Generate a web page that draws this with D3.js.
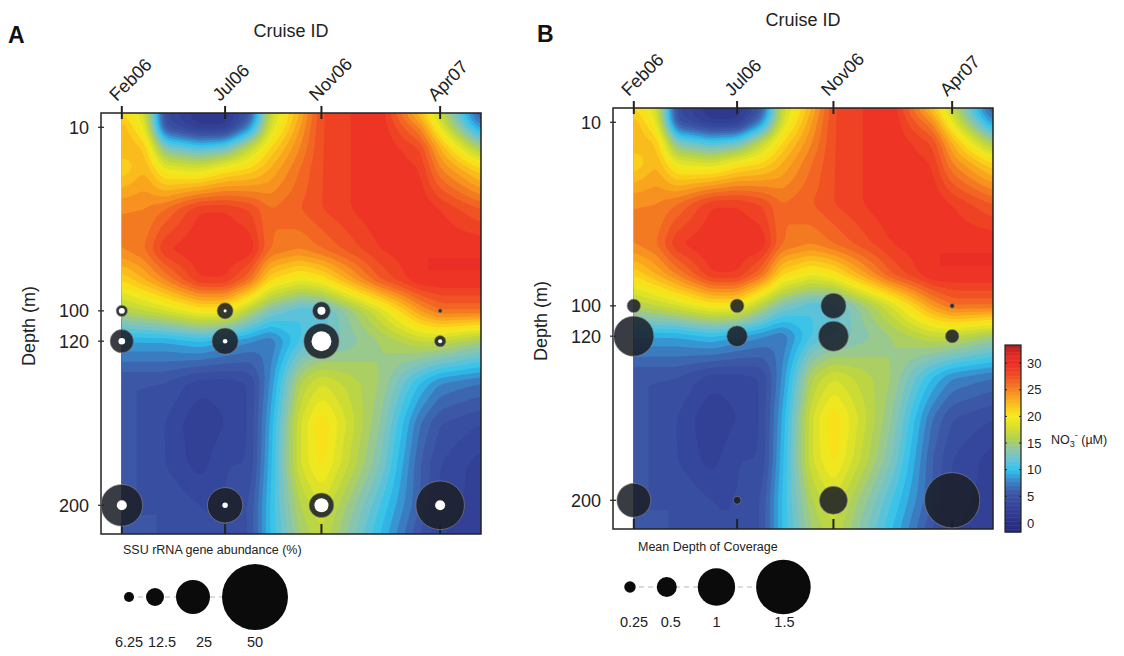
<!DOCTYPE html>
<html lang="en">
<head>
<meta charset="UTF-8">
<title>NO3 depth sections</title>
<style>
  body { margin: 0; background: #fff; }
  svg { font-family: "Liberation Sans", Arial, Helvetica, sans-serif; }
</style>
</head>
<body>
<svg id="chart" width="1124" height="656"></svg>
<script src="https://d3js.org/d3.v7.min.js"></script>
<script>
// cruises and sample depths
const cruises = ["Feb06", "Jul06", "Nov06", "Apr07"];
const cruiseDates = ["2006-02-20", "2006-07-04", "2006-11-06", "2007-04-09"];
const depthTicks = [10, 100, 120, 200];
const sampleDepths = [100, 120, 200];

// SSU rRNA gene abundance (%), rows = sampleDepths, cols = cruises
const ssuOuter = [
  [7.3, 11, 12.5, 1.6],
  [16.7, 19, 26, 7.3],
  [31, 26, 17.7, 36.4]
];
const ssuInner = [
  [3.1, 0.8, 4.7, 0],
  [3.6, 2, 14, 1.6],
  [6.25, 2.7, 9.4, 6.25]
];
// mean depth of coverage
const coverage = [
  [0.31, 0.32, 0.65, 0.05],
  [1.08, 0.52, 0.79, 0.31],
  [0.90, 0.15, 0.73, 1.52]
];
const ssuLegend = [6.25, 12.5, 25, 50];
const covLegend = [0.25, 0.5, 1, 1.5];
const no3Ticks = [0, 5, 10, 15, 20, 25, 30];

// NO3 field: columns = gridDates, rows = gridDepths
const gridDates = ["2006-02-20", "2006-03-22", "2006-04-17", "2006-06-01", "2006-07-04", "2006-08-05",
                   "2006-08-31", "2006-10-09", "2006-11-06", "2007-01-21", "2007-03-14", "2007-04-09",
                   "2007-06-01"];
const gridDepths = [3, 10, 20, 30, 50, 70, 85, 100, 120, 140, 160, 180, 200, 214];
const no3 = [
  [21, 18, 4, 1, 1, 5, 17, 23, 28, 30, 22, 17, 5],
  [23, 19, 5, 2, 2, 8, 18, 24, 28, 30, 25, 19, 8],
  [23, 22, 13, 11, 12, 17, 21, 25, 28, 30, 28, 23, 15],
  [21, 23, 19, 18, 20, 21, 23, 26, 28, 30, 29, 25, 21],
  [25, 25, 26, 29, 29, 28, 26, 27, 28, 30, 30, 29, 27],
  [25, 26, 29, 30, 30, 30, 26, 25, 26, 29, 30, 30, 30],
  [21, 23, 25, 29, 29, 26, 21, 19, 20, 27, 30, 30, 30],
  [16, 17, 18, 20, 20, 16, 13, 11, 11, 18, 24, 26, 26],
  [9, 9, 9, 10, 9, 8, 7, 11, 12, 15, 17, 17, 15],
  [5, 5, 5, 3.5, 3.5, 4, 8, 16, 18, 15, 10, 8, 7],
  [5, 5, 4, 2, 3, 4, 9, 18, 21, 14, 7, 5, 4],
  [5, 5, 4, 2.5, 4, 4, 9.5, 18, 20.5, 13, 6, 4, 2.5],
  [5, 5, 5, 4, 4, 5, 10, 16, 18, 11, 6, 3.5, 2.5],
  [5, 5, 5, 4, 4, 5, 10, 15, 17, 10, 5, 3, 2.5]
];

const parse = d3.timeParse("%Y-%m-%d");
const W = 380, H = 421;

const x = d3.scaleTime()
  .domain([parse("2006-01-24"), parse("2007-06-01")])
  .range([0, W]);
const y = d3.scaleLinear()
  .domain([3, 100, 120, 214])
  .range([0, 0.47 * H, 0.542 * H, H]);

const color = d3.scaleLinear()
  .domain([-2, 0, 3, 6, 8, 10, 12, 14, 16, 18, 20, 22, 24, 26, 28, 30, 31.5, 34])
  .range(["#262b78", "#2b3184", "#33439a", "#3c5ba8", "#3a86c8", "#2dc3ef", "#6ac3d2", "#91c6a2",
          "#b3d24c", "#d6df2c", "#f7ea1b", "#fbc51b", "#f89c1e", "#f36f22", "#ef4824", "#ed2f25",
          "#e52a25", "#9c1c20"])
  .clamp(true);

const svg = d3.select("#chart");

// resample the field on a fine regular grid (bilinear in screen space)
const colPx = gridDates.map(d => x(parse(d)));
const rowPx = gridDepths.map(d => y(d));
const x0 = colPx[0];
const nx = 180, ny = 210;
const sx = (W - x0) / nx, sy = H / ny;

function lerpIndex(arr, v) {
  let i = d3.bisectRight(arr, v) - 1;
  i = Math.max(0, Math.min(arr.length - 2, i));
  let t = (v - arr[i]) / (arr[i + 1] - arr[i]);
  return [i, Math.max(0, Math.min(1, t))];
}

let values = new Array(nx * ny);
for (let j = 0; j < ny; j++) {
  const [r, ty] = lerpIndex(rowPx, (j + 0.5) * sy);
  for (let i = 0; i < nx; i++) {
    const [c, tx] = lerpIndex(colPx, x0 + (i + 0.5) * sx);
    const a = no3[r][c] * (1 - tx) + no3[r][c + 1] * tx;
    const b = no3[r + 1][c] * (1 - tx) + no3[r + 1][c + 1] * tx;
    values[j * nx + i] = a * (1 - ty) + b * ty;
  }
}

// light box blur with clamped edges to soften the grid corners
function boxBlur(src, w, h, rad) {
  const tmp = new Array(w * h), out = new Array(w * h);
  for (let j = 0; j < h; j++) for (let i = 0; i < w; i++) {
    let s = 0;
    for (let k = -rad; k <= rad; k++) s += src[j * w + Math.max(0, Math.min(w - 1, i + k))];
    tmp[j * w + i] = s / (2 * rad + 1);
  }
  for (let j = 0; j < h; j++) for (let i = 0; i < w; i++) {
    let s = 0;
    for (let k = -rad; k <= rad; k++) s += tmp[Math.max(0, Math.min(h - 1, j + k)) * w + i];
    out[j * w + i] = s / (2 * rad + 1);
  }
  return out;
}
values = boxBlur(boxBlur(values, nx, ny, 2), nx, ny, 2);

const bands = d3.contours().size([nx, ny]).thresholds(d3.range(-2, 35, 1))(values);
const gridPath = d3.geoPath(d3.geoTransform({
  point: function(px, py) { this.stream.point(x0 + px * sx, py * sy); }
}));

function drawPanel(cfg) {
  const g = svg.append("g").attr("transform", `translate(${cfg.left},${cfg.top})`);

  g.append("g").selectAll("path")
    .data(bands)
    .join("path")
    .attr("d", gridPath)
    .attr("fill", d => color(d.value + 0.5));

  // frame
  g.append("rect")
    .attr("width", W).attr("height", H)
    .attr("fill", "none").attr("stroke", "#222").attr("stroke-width", 1.5);

  // top cruise ticks
  const top = g.append("g").selectAll("g")
    .data(cruises)
    .join("g")
    .attr("transform", (d, i) => `translate(${x(parse(cruiseDates[i]))},0)`);
  top.append("line").attr("y1", -7).attr("y2", 6).attr("stroke", "#222").attr("stroke-width", 2);
  top.append("text")
    .attr("transform", "translate(-5,-11) rotate(-45)")
    .attr("font-size", 18).attr("fill", "#222")
    .text(d => d);

  // bottom ticks
  g.append("g").selectAll("line")
    .data(cruiseDates)
    .join("line")
    .attr("x1", d => x(parse(d))).attr("x2", d => x(parse(d)))
    .attr("y1", H - 10).attr("y2", H)
    .attr("stroke", "#222").attr("stroke-width", 2);

  g.append("text")
    .attr("x", 190).attr("y", cfg.titleY)
    .attr("text-anchor", "middle").attr("font-size", 18).attr("fill", "#222")
    .text("Cruise ID");

  // depth axis
  const left = g.append("g").selectAll("g")
    .data(depthTicks)
    .join("g")
    .attr("transform", d => `translate(0,${y(d)})`);
  left.append("line").attr("x1", -3).attr("x2", 3).attr("stroke", "#222").attr("stroke-width", 1.2);
  left.append("text")
    .attr("x", -12).attr("dy", "0.36em")
    .attr("text-anchor", "end").attr("font-size", 18).attr("fill", "#222")
    .text(d => d);

  g.append("text")
    .attr("transform", `translate(-66,${y(110)}) rotate(-90)`)
    .attr("text-anchor", "middle").attr("font-size", 18).attr("fill", "#222")
    .text("Depth (m)");

  svg.append("text")
    .attr("x", cfg.letterX).attr("y", cfg.letterY)
    .attr("font-size", 23).attr("font-weight", "bold").attr("fill", "#111")
    .text(cfg.letter);

  return g;
}

function bubbleData(matrix) {
  const out = [];
  sampleDepths.forEach((dep, r) => cruises.forEach((c, k) => {
    out.push({ depth: dep, date: parse(cruiseDates[k]), v: matrix[r][k] });
  }));
  return out;
}

function drawLegend(cfg, vals, rScale, gap) {
  const lg = svg.append("g");
  const pos = [];
  vals.forEach((v, i) => {
    if (i === 0) pos.push(cfg.legendX);
    else pos.push(pos[i - 1] + rScale(vals[i - 1]) + gap + rScale(v));
  });
  lg.append("line")
    .attr("x1", pos[0]).attr("x2", pos[pos.length - 1])
    .attr("y1", cfg.legendY).attr("y2", cfg.legendY)
    .attr("stroke", "#b5b5b5").attr("stroke-dasharray", "5,4");
  lg.selectAll("circle")
    .data(vals)
    .join("circle")
    .attr("cx", (d, i) => pos[i]).attr("cy", cfg.legendY)
    .attr("r", d => rScale(d))
    .attr("fill", "#0b0b0b");
  lg.selectAll("text.lab")
    .data(vals)
    .join("text")
    .attr("class", "lab")
    .attr("x", (d, i) => pos[i] + cfg.labelShift[i]).attr("y", cfg.labelY)
    .attr("text-anchor", "middle").attr("font-size", 14.5).attr("fill", "#222")
    .text(d => d);
  lg.append("text")
    .attr("x", cfg.legendTitleX).attr("y", cfg.legendTitleY)
    .attr("font-size", 12.5).attr("fill", "#222")
    .text(cfg.legendTitle);
}

// ---- Panel A ----
const cfgA = { left: 101, top: 113, letter: "A", letterX: 8, letterY: 43, titleY: -76,
  legendX: 129, legendY: 597, labelY: 647, labelShift: [0, 7, 11, 0],
  legendTitleX: 123, legendTitleY: 554, legendTitle: "SSU rRNA gene abundance (%)" };
const gA = drawPanel(cfgA);
const rA = d3.scaleLinear().domain([0, 50]).range([1, 33]);

gA.append("g").selectAll("circle")
  .data(bubbleData(ssuOuter))
  .join("circle")
  .attr("cx", d => x(d.date)).attr("cy", d => y(d.depth))
  .attr("r", d => rA(d.v))
  .attr("fill", "#1c1f27").attr("fill-opacity", 0.87)
  .attr("stroke", "#8a8a8a").attr("stroke-width", 0.6);
gA.append("g").selectAll("circle")
  .data(bubbleData(ssuInner).filter(d => d.v > 0))
  .join("circle")
  .attr("cx", d => x(d.date)).attr("cy", d => y(d.depth))
  .attr("r", d => rA(d.v))
  .attr("fill", "#fff");
drawLegend(cfgA, ssuLegend, rA, 12);

// ---- Panel B ----
const cfgB = { left: 613, top: 108, letter: "B", letterX: 537, letterY: 42, titleY: -82,
  legendX: 630, legendY: 587, labelY: 627, labelShift: [4, 4, 0, 1],
  legendTitleX: 638, legendTitleY: 551, legendTitle: "Mean Depth of Coverage" };
const gB = drawPanel(cfgB);
const rB = d3.scaleLinear().domain([0, 1.5]).range([1.4, 27.3]);

gB.append("g").selectAll("circle")
  .data(bubbleData(coverage))
  .join("circle")
  .attr("cx", d => x(d.date)).attr("cy", d => y(d.depth))
  .attr("r", d => rB(d.v))
  .attr("fill", "#1c1f27").attr("fill-opacity", 0.87)
  .attr("stroke", "#8a8a8a").attr("stroke-width", 0.6);
drawLegend(cfgB, covLegend, rB, 21);

// ---- colour bar ----
const cb = d3.scaleLinear().domain([-1.7, 33.4]).range([532, 345]);
const cbX = 1005, cbW = 16;
const cbg = svg.append("g");
cbg.selectAll("rect")
  .data(d3.range(-1.7, 33.4, 0.25))
  .join("rect")
  .attr("x", cbX).attr("width", cbW)
  .attr("y", d => cb(Math.min(d + 0.25, 33.4)))
  .attr("height", d => cb(d) - cb(Math.min(d + 0.25, 33.4)) + 0.5)
  .attr("fill", d => color(d + 0.125));
cbg.append("rect")
  .attr("x", cbX).attr("y", cb(33.4)).attr("width", cbW).attr("height", cb(-1.7) - cb(33.4))
  .attr("fill", "none").attr("stroke", "#222").attr("stroke-width", 1.2);
const cbt = cbg.selectAll("g.t")
  .data(no3Ticks)
  .join("g")
  .attr("class", "t")
  .attr("transform", d => `translate(0,${cb(d)})`);
cbt.append("line").attr("x1", cbX).attr("x2", cbX + 2).attr("stroke", "#222");
cbt.append("line").attr("x1", cbX + cbW - 2).attr("x2", cbX + cbW).attr("stroke", "#222");
cbt.append("text")
  .attr("x", cbX + cbW + 6).attr("dy", "0.36em")
  .attr("font-size", 13).attr("fill", "#222")
  .text(d => d);

const no3Label = svg.append("text")
  .attr("x", 1051).attr("y", 444)
  .attr("font-size", 12.5).attr("fill", "#222");
no3Label.append("tspan").text("NO");
no3Label.append("tspan").attr("font-size", 9).attr("dy", 3).text("3");
no3Label.append("tspan").attr("font-size", 9).attr("dy", -9).text("-");
no3Label.append("tspan").attr("dy", 6).text(" (µM)");
</script>
</body>
</html>
